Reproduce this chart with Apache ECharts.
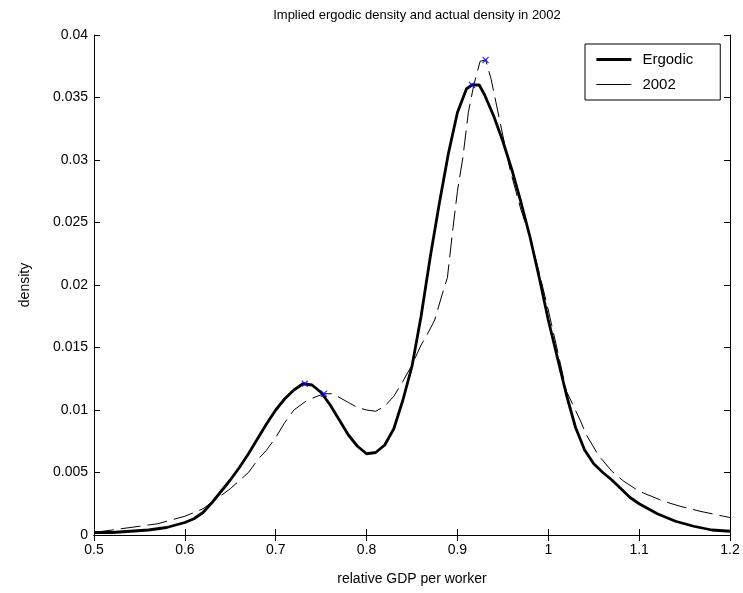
<!DOCTYPE html>
<html lang="en">
<head>
    <meta charset="utf-8">
    <title>Implied ergodic density</title>
    <script src="https://cdn.jsdelivr.net/npm/echarts@6/dist/echarts.min.js"></script>
    <style>
        html, body, #main {
            width: 100%;
            height: 100%;
            margin: 0;
            padding: 0;
            overflow: hidden;
            background-color: #ffffff;
        }
    </style>
</head>
<body>
<div id="main"></div>
<script>
    // ergodic density (thick line)
    var ergodicX = [0.50, 0.52, 0.54, 0.56, 0.58, 0.60, 0.61, 0.62, 0.63, 0.64, 0.65, 0.66, 0.67, 0.68, 0.69,
        0.70, 0.71, 0.72, 0.73, 0.74, 0.75, 0.76, 0.77, 0.78, 0.79, 0.80, 0.81, 0.82, 0.83, 0.84, 0.85,
        0.86, 0.87, 0.88, 0.89, 0.90, 0.91, 0.916, 0.924, 0.93, 0.94, 0.95, 0.96, 0.97, 0.98, 0.99, 1.00,
        1.01, 1.02, 1.03, 1.04, 1.05, 1.06, 1.07, 1.08, 1.09, 1.10, 1.12, 1.14, 1.16, 1.18, 1.20];
    var ergodicY = [0.0002, 0.0002, 0.0003, 0.0004, 0.0006, 0.0010, 0.0013, 0.0018, 0.0026, 0.0035, 0.0044,
        0.0054, 0.0065, 0.0077, 0.0089, 0.0100, 0.0109, 0.0116, 0.0121, 0.0120, 0.0114, 0.0104, 0.0092,
        0.0080, 0.0071, 0.0065, 0.0066, 0.0072, 0.0085, 0.0108, 0.0135, 0.0175, 0.0222, 0.0265, 0.0305,
        0.0338, 0.0357, 0.0360, 0.0360, 0.0352, 0.0335, 0.0315, 0.0292, 0.0266, 0.0238, 0.0206, 0.0172,
        0.0142, 0.0112, 0.0086, 0.0068, 0.0057, 0.0050, 0.0044, 0.0037, 0.0030, 0.0025, 0.0017, 0.0011,
        0.0007, 0.0004, 0.0003];

    // actual density in 2002 (thin dashed line)
    var actualX = [0.50, 0.52, 0.55, 0.57, 0.60, 0.62, 0.635, 0.65, 0.67, 0.68, 0.69, 0.70, 0.71, 0.72, 0.735,
        0.753, 0.763, 0.78, 0.79, 0.80, 0.81, 0.82, 0.83, 0.84, 0.85, 0.86, 0.865, 0.875, 0.883, 0.889,
        0.895, 0.90, 0.906, 0.912, 0.918, 0.925, 0.931, 0.937, 0.947, 0.958, 0.97, 0.98, 0.99, 1.00,
        1.01, 1.02, 1.035, 1.042, 1.055, 1.07, 1.083, 1.10, 1.127, 1.145, 1.167, 1.193, 1.20];
    var actualY = [0.0002, 0.0004, 0.0007, 0.0009, 0.0015, 0.0021, 0.0029, 0.0037, 0.0050, 0.0060, 0.0068,
        0.0078, 0.0090, 0.0100, 0.0108, 0.0113, 0.0113, 0.0106, 0.0102, 0.0100, 0.0099, 0.0103, 0.0111,
        0.0123, 0.0136, 0.0152, 0.0158, 0.0172, 0.0192, 0.0206, 0.0245, 0.0275, 0.0302, 0.0338, 0.0360,
        0.0379, 0.0380, 0.0365, 0.0330, 0.0292, 0.0260, 0.0238, 0.0210, 0.0180, 0.0148, 0.0115, 0.0092,
        0.0080, 0.0064, 0.0051, 0.0043, 0.0035, 0.0027, 0.0023, 0.0019, 0.0015, 0.0014];

    // local modes marked with blue crosses
    var modeX = [0.732, 0.916, 0.753, 0.931];
    var modeY = [0.0121, 0.0360, 0.0113, 0.0380];

    var xTicks = [0.5, 0.6, 0.7, 0.8, 0.9, 1, 1.1, 1.2];
    var yTicks = [0, 0.005, 0.01, 0.015, 0.02, 0.025, 0.03, 0.035, 0.04];

    function pairs(xs, ys) {
        var out = [];
        for (var i = 0; i < xs.length; i++) {
            out.push([xs[i], ys[i]]);
        }
        return out;
    }

    var font = 'Liberation Sans, Arial, Helvetica, sans-serif';

    function axis(dim, pos, ticks, showLabel, name) {
        return {
            type: 'value',
            position: pos,
            min: ticks[0],
            max: ticks[ticks.length - 1],
            interval: ticks[1] - ticks[0],
            name: name || '',
            nameLocation: 'middle',
            nameGap: dim === 'x' ? 37 : 62,
            nameTextStyle: {color: '#000', fontSize: 14, fontFamily: font},
            axisLine: {show: true, lineStyle: {color: '#000', width: 1}},
            axisTick: {show: true, inside: true, length: 6, lineStyle: {color: '#000'}},
            axisLabel: {
                show: showLabel, color: '#000', fontSize: 14, fontFamily: font,
                margin: dim === 'x' ? 8 : 6,
                formatter: function (v) {
                    return String(parseFloat(v.toFixed(4)));
                }
            },
            splitLine: {show: false}
        };
    }

    var myChart = echarts.init(document.getElementById('main'));
    var option = {
        animation: false,
        backgroundColor: '#fff',
        title: {
            text: 'Implied ergodic density and actual density in 2002',
            left: 412,
            textAlign: 'center',
            top: 4,
            textStyle: {color: '#000', fontSize: 13, fontWeight: 'normal', fontFamily: font}
        },
        grid: {left: 94, right: 13, top: 35, bottom: 58, outerBoundsMode: 'none'},
        legend: {
            orient: 'vertical',
            left: 585,
            top: 44,
            padding: [8, 27, 8, 10],
            itemGap: 10,
            itemWidth: 35,
            itemHeight: 14,
            borderColor: '#000',
            borderWidth: 1,
            borderRadius: 0,
            backgroundColor: '#fff',
            itemStyle: {opacity: 0},
            textStyle: {color: '#000', fontSize: 15, fontFamily: font, padding: [0, 0, 0, 6]},
            data: [
                {name: 'Ergodic', lineStyle: {color: '#000', width: 2.8, type: 'solid'}},
                {name: '2002', lineStyle: {color: '#000', width: 1, type: 'solid'}}
            ]
        },
        xAxis: [
            axis('x', 'bottom', xTicks, true, 'relative GDP per worker'),
            axis('x', 'top', xTicks, false)
        ],
        yAxis: [
            axis('y', 'left', yTicks, true, 'density'),
            axis('y', 'right', yTicks, false)
        ],
        series: [
            {
                name: 'Ergodic',
                type: 'line',
                symbol: 'none',
                data: pairs(ergodicX, ergodicY),
                lineStyle: {color: '#000', width: 2.8},
                itemStyle: {color: '#000'},
                z: 3
            },
            {
                name: '2002',
                type: 'line',
                symbol: 'none',
                data: pairs(actualX, actualY),
                lineStyle: {color: '#000', width: 1, type: [20, 7]},
                itemStyle: {color: '#000'},
                z: 2
            },
            {
                name: 'modes',
                type: 'scatter',
                symbol: 'path://M0,0L10,10M10,0L0,10',
                symbolSize: 6,
                data: pairs(modeX, modeY),
                itemStyle: {color: 'none', borderColor: '#0000ff', borderWidth: 1.2},
                z: 4
            }
        ]
    };
    myChart.setOption(option);
</script>
</body>
</html>
